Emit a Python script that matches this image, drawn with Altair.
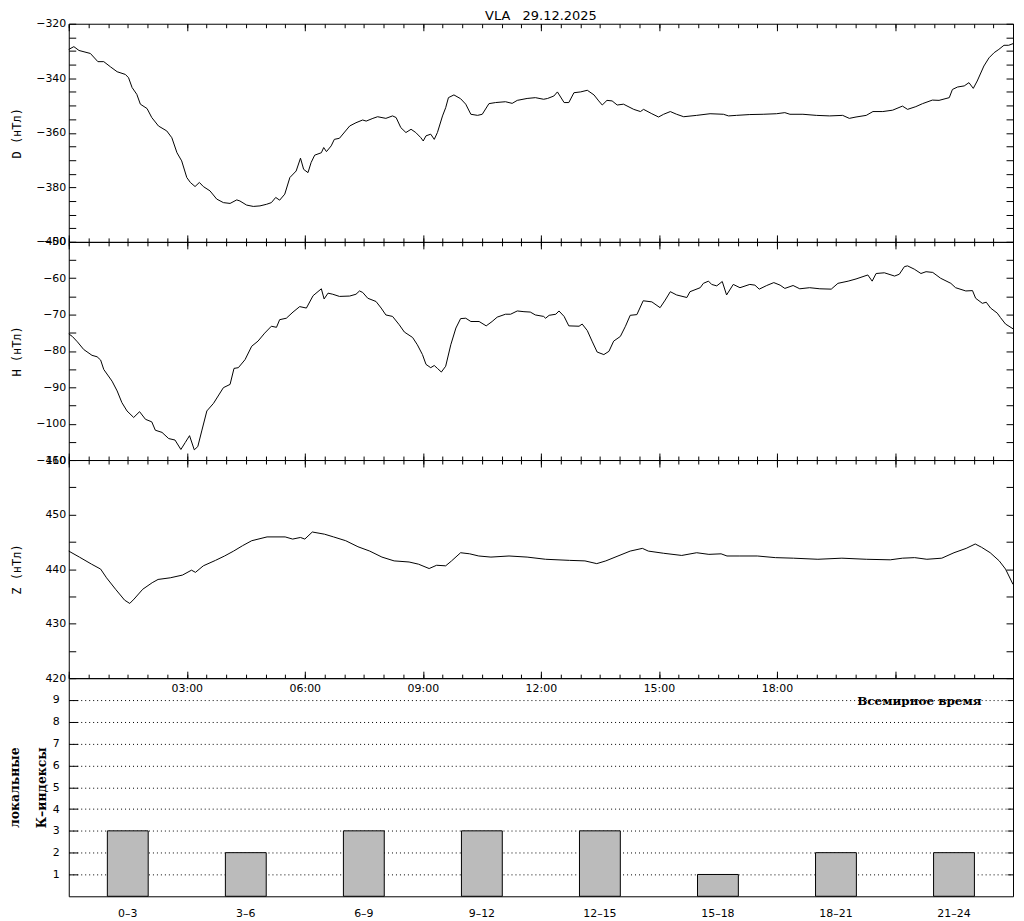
import altair as alt
import pandas as pd

# ---------------- data ----------------
d_hours = [0.00, 0.13, 0.26, 0.55, 0.74, 0.89, 1.06, 1.23, 1.44, 1.52, 1.61, 1.73, 1.82, 1.99, 2.11, 2.28,
           2.49, 2.62, 2.75, 2.87, 3.00, 3.09, 3.21, 3.32, 3.42, 3.59, 3.76, 3.93, 4.10, 4.27, 4.35, 4.52,
           4.69, 4.86, 5.03, 5.15, 5.26, 5.36, 5.49, 5.62, 5.78, 5.89, 5.97, 6.08, 6.16, 6.25, 6.42, 6.48,
           6.55, 6.67, 6.75, 6.88, 7.14, 7.30, 7.47, 7.56, 7.73, 7.85, 8.06, 8.23, 8.32, 8.44, 8.57, 8.70,
           8.82, 8.95, 9.01, 9.08, 9.20, 9.29, 9.37, 9.50, 9.58, 9.65, 9.79, 9.96, 10.09, 10.22, 10.39,
           10.51, 10.68, 10.85, 11.10, 11.27, 11.40, 11.65, 11.86, 12.07, 12.17, 12.33, 12.42, 12.59, 12.71,
           12.84, 13.01, 13.18, 13.35, 13.47, 13.56, 13.68, 13.81, 13.94, 14.10, 14.36, 14.53, 14.61, 14.82,
           14.99, 15.12, 15.29, 15.45, 15.63, 15.96, 16.30, 16.64, 16.77, 16.97, 17.31, 17.65, 17.99, 18.20,
           18.33, 18.66, 19.00, 19.34, 19.67, 19.84, 20.01, 20.27, 20.44, 20.69, 20.94, 21.19, 21.32, 21.53,
           21.70, 21.95, 22.12, 22.38, 22.46, 22.59, 22.76, 22.88, 22.99, 23.09, 23.26, 23.39, 23.52, 23.64,
           23.77, 23.89, 24.00]
d_values = [-329.4, -328.4, -329.8, -330.9, -333.9, -333.9, -335.8, -337.6, -338.6, -339.8, -343.4, -345.9,
            -349.5, -351.1, -354.4, -357.5, -359.3, -361.8, -367.3, -370.3, -376.4, -378.2, -379.7, -378.2,
            -379.7, -381.3, -384.3, -385.6, -385.9, -384.6, -385.0, -386.5, -387.0, -386.8, -386.2, -385.6,
            -383.7, -384.7, -382.5, -376.4, -374.0, -369.3, -373.4, -374.6, -370.9, -368.2, -367.3, -365.4,
            -366.9, -364.8, -362.4, -362.0, -357.5, -356.3, -355.3, -355.7, -354.7, -354.1, -354.7, -353.8,
            -354.4, -358.1, -359.9, -358.7, -359.9, -361.8, -363.0, -361.1, -360.5, -362.4, -359.9, -353.8,
            -350.8, -347.1, -346.1, -347.5, -349.5, -353.2, -353.6, -353.2, -349.3, -348.9, -348.6, -349.2,
            -348.1, -347.4, -347.1, -347.7, -347.4, -346.5, -345.0, -348.9, -348.9, -345.3, -345.0, -344.4,
            -346.1, -348.3, -349.8, -348.1, -348.3, -349.8, -349.5, -351.4, -352.2, -351.4, -353.0, -354.2,
            -353.2, -352.2, -353.2, -354.1, -353.6, -353.0, -353.2, -353.8, -353.6, -353.3, -353.2, -353.0,
            -352.6, -353.2, -353.2, -353.6, -353.8, -353.6, -354.7, -354.2, -353.6, -352.2, -352.2, -351.7,
            -350.2, -351.4, -350.4, -349.3, -348.0, -348.1, -347.1, -344.1, -343.2, -342.8, -341.6, -343.7,
            -341.0, -335.5, -332.5, -330.6, -329.4, -327.9, -327.9, -327.3]

h_hours = [0.00, 0.09, 0.22, 0.38, 0.59, 0.72, 0.81, 0.89, 1.10, 1.23, 1.35, 1.48, 1.65, 1.80, 1.95, 2.11,
           2.20, 2.37, 2.54, 2.70, 2.85, 2.96, 3.07, 3.19, 3.28, 3.38, 3.51, 3.68, 3.93, 4.10, 4.20, 4.31,
           4.48, 4.65, 4.81, 4.98, 5.15, 5.28, 5.36, 5.53, 5.70, 5.87, 6.04, 6.21, 6.42, 6.49, 6.59, 6.71,
           6.88, 7.14, 7.30, 7.39, 7.47, 7.60, 7.81, 7.94, 8.06, 8.23, 8.40, 8.53, 8.74, 8.86, 8.99, 9.08,
           9.20, 9.29, 9.37, 9.47, 9.58, 9.71, 9.84, 9.96, 10.09, 10.22, 10.43, 10.61, 10.76, 10.89, 11.10,
           11.23, 11.40, 11.57, 11.73, 11.86, 12.07, 12.12, 12.21, 12.38, 12.46, 12.59, 12.71, 12.97, 13.05,
           13.18, 13.30, 13.43, 13.60, 13.73, 13.85, 14.02, 14.15, 14.27, 14.44, 14.60, 14.82, 15.03, 15.16,
           15.29, 15.45, 15.71, 15.79, 16.05, 16.13, 16.26, 16.34, 16.47, 16.61, 16.72, 16.89, 17.06, 17.31,
           17.44, 17.55, 17.74, 17.92, 18.08, 18.20, 18.41, 18.58, 18.83, 19.09, 19.38, 19.55, 19.81, 20.01,
           20.31, 20.42, 20.52, 20.73, 20.99, 21.11, 21.24, 21.32, 21.49, 21.66, 21.79, 21.96, 22.16, 22.42,
           22.54, 22.80, 22.97, 23.05, 23.22, 23.32, 23.43, 23.60, 23.68, 23.81, 24.00]
h_values = [-75.3, -76.0, -77.5, -79.6, -81.2, -81.6, -82.5, -85.1, -88.3, -91.0, -94.2, -96.5, -98.3, -96.7,
            -98.8, -99.5, -101.8, -102.4, -104.1, -104.5, -107.1, -105.2, -103.3, -107.2, -106.3, -102.0,
            -96.5, -94.4, -90.1, -89.2, -84.8, -84.6, -82.4, -78.7, -77.3, -75.1, -73.2, -73.5, -71.4, -71.0,
            -69.3, -67.8, -68.2, -64.8, -62.9, -65.7, -64.1, -64.4, -65.0, -64.9, -64.4, -63.5, -63.9, -65.5,
            -66.4, -68.2, -70.1, -70.5, -72.8, -74.8, -76.3, -78.3, -81.0, -83.7, -84.6, -84.0, -84.8, -85.8,
            -84.2, -78.3, -73.7, -71.1, -71.0, -71.9, -71.9, -73.1, -71.9, -70.7, -69.9, -69.9, -69.0, -69.2,
            -69.3, -70.1, -70.5, -71.0, -70.2, -69.9, -69.0, -70.5, -73.1, -73.2, -72.6, -74.4, -77.3, -80.3,
            -81.0, -80.1, -77.3, -76.0, -73.2, -70.2, -70.0, -66.2, -66.5, -68.1, -66.0, -63.7, -64.6, -65.3,
            -63.7, -62.6, -61.4, -60.8, -61.7, -62.1, -60.9, -64.6, -61.7, -62.6, -61.7, -61.9, -63.0, -62.0,
            -61.2, -61.9, -62.8, -62.0, -62.9, -62.6, -62.9, -63.0, -61.4, -60.8, -60.2, -59.1, -60.8, -58.7,
            -58.5, -59.4, -58.9, -56.8, -56.6, -57.5, -58.7, -58.2, -58.4, -60.0, -61.4, -62.6, -63.5, -63.4,
            -65.5, -66.9, -66.6, -68.2, -69.6, -70.8, -72.6, -73.9]

z_hours = [0.00, 0.27, 0.58, 0.81, 0.96, 1.19, 1.42, 1.55, 1.66, 1.88, 2.12, 2.27, 2.58, 2.89, 3.12, 3.22,
           3.42, 3.73, 3.96, 4.19, 4.42, 4.65, 5.04, 5.50, 5.69, 5.89, 6.00, 6.19, 6.50, 6.73, 7.04, 7.35,
           7.65, 7.96, 8.27, 8.65, 8.89, 9.16, 9.35, 9.58, 9.73, 9.96, 10.19, 10.42, 10.73, 11.19, 11.65,
           12.12, 12.73, 13.12, 13.42, 13.65, 13.96, 14.27, 14.58, 14.73, 15.12, 15.58, 15.96, 16.27, 16.58,
           16.73, 17.04, 17.50, 17.96, 18.42, 19.04, 19.65, 20.27, 20.88, 21.19, 21.50, 21.81, 22.19, 22.50,
           22.81, 23.04, 23.20, 23.42, 23.65, 23.81, 24.00]
z_values = [443.3, 442.2, 440.9, 440.0, 438.4, 436.3, 434.3, 433.7, 434.5, 436.3, 437.5, 438.1, 438.4, 438.9,
            439.8, 439.4, 440.6, 441.6, 442.4, 443.3, 444.3, 445.2, 445.9, 445.9, 445.5, 445.8, 445.5, 446.8,
            446.4, 445.9, 445.2, 444.1, 443.3, 442.2, 441.5, 441.3, 440.9, 440.1, 440.7, 440.6, 441.5, 443.0,
            442.8, 442.4, 442.2, 442.4, 442.2, 441.8, 441.6, 441.5, 441.0, 441.5, 442.4, 443.3, 443.8, 443.3,
            442.9, 442.5, 443.0, 442.7, 442.8, 442.4, 442.4, 442.4, 442.1, 442.0, 441.8, 442.0, 441.8, 441.7,
            442.0, 442.1, 441.8, 442.0, 443.0, 443.8, 444.6, 444.0, 443.0, 441.5, 440.0, 437.2]

k_labels = ["0–3", "3–6", "6–9", "9–12", "12–15", "15–18", "18–21", "21–24"]
k_values = [3, 2, 3, 3, 3, 1, 2, 2]

time_ticks = [3, 6, 9, 12, 15, 18]
time_labels = ["03:00", "06:00", "09:00", "12:00", "15:00", "18:00"]

# ---------------- styling ----------------
W = 948
PH = 219
BLACK = "#000000"
SANS = "DejaVu Sans"
SERIF = "DejaVu Serif"
MONO = "DejaVu Sans Mono"

half_hours = [i * 0.5 for i in range(49)]
three_hours = [i * 3 for i in range(9)]


def field_panel(hours, values, domain, label_step, title, show_time=False):
    df = pd.DataFrame({"t": hours, "v": values})
    xs = alt.Scale(domain=[0, 24], nice=False, zero=False)
    ys = alt.Scale(domain=domain, nice=False, zero=False)
    yvals = list(range(domain[0], domain[1] + 1, 5))
    base = alt.Chart(df)

    l1 = base.mark_line(color=BLACK, strokeWidth=1).encode(
        x=alt.X("t:Q", scale=xs, axis=alt.Axis(orient="bottom", values=half_hours, tickSize=4,
                                                offset=-4, labels=False, title=None)),
        y=alt.Y("v:Q", scale=ys, axis=alt.Axis(
            orient="left", values=yvals, tickSize=7, offset=-7, labelPadding=3, labelFontSize=11,
            labelExpr=f"datum.value % {label_step} === 0 ? datum.label : ''",
            title=title, titleX=-52.5, titleY=PH / 2, titleAngle=270, titleBaseline="bottom",
            titleAlign="center", titleFont=MONO, titleFontSize=12, titleFontWeight="normal")),
    )
    l2 = base.mark_line(opacity=0).encode(
        x=alt.X("t:Q", scale=xs, axis=alt.Axis(orient="top", values=half_hours, tickSize=4,
                                                offset=-4, labels=False, title=None)),
        y=alt.Y("v:Q", scale=ys, axis=alt.Axis(orient="right", values=yvals, tickSize=7,
                                                offset=-7, labels=False, title=None)),
    )
    if show_time:
        bottom_major = alt.Axis(
            orient="bottom", values=three_hours, tickSize=7, offset=-7, labels=True, labelPadding=4,
            labelFontSize=11,
            labelExpr=f"indexof({time_ticks}, datum.value) >= 0 ? {time_labels}[indexof({time_ticks}, datum.value)] : ''",
            title="Всемирное время", titleX=853.5, titleY=29, titleBaseline="middle", titleAlign="center",
            titleFont=SERIF, titleFontSize=12, titleFontWeight="bold")
    else:
        bottom_major = alt.Axis(orient="bottom", values=three_hours, tickSize=7, offset=-7,
                                labels=False, title=None)
    l3 = base.mark_line(opacity=0).encode(
        x=alt.X("t:Q", scale=xs, axis=bottom_major),
        y=alt.Y("v:Q", scale=ys, axis=None),
    )
    l4 = base.mark_line(opacity=0).encode(
        x=alt.X("t:Q", scale=xs, axis=alt.Axis(orient="top", values=three_hours, tickSize=7,
                                                offset=-7, labels=False, title=None)),
        y=alt.Y("v:Q", scale=ys, axis=None),
    )
    return (alt.layer(l1, l2, l3, l4)
            .resolve_axis(x="independent", y="independent")
            .properties(width=W, height=PH))


d_panel = field_panel(d_hours, d_values, [-400, -320], 20, "D (нТл)")
h_panel = field_panel(h_hours, h_values, [-110, -50], 10, "H (нТл)")
z_panel = field_panel(z_hours, z_values, [420, 460], 10, "Z (нТл)", show_time=True)

# ---------------- K-index panel ----------------
kdf = pd.DataFrame({"interval": k_labels, "k": k_values})
kx = alt.Scale(domain=k_labels, paddingInner=0.654, paddingOuter=0.327)
ky = alt.Scale(domain=[0, 10], nice=False, zero=True)
kvals = list(range(1, 10))
k_xaxis = alt.Axis(orient="bottom", labelAngle=0, ticks=False, labelPadding=11.5,
                   labelFontSize=11, title=None)

# dotted grid (axis without offset so it spans exactly the panel)
k_grid = alt.Chart(kdf).mark_bar(opacity=0).encode(
    x=alt.X("interval:N", sort=k_labels, scale=kx, axis=k_xaxis),
    y=alt.Y("k:Q", scale=ky, axis=alt.Axis(
        orient="left", values=kvals, grid=True, gridDash=[1, 3], gridColor=BLACK, gridWidth=1,
        gridOpacity=1, ticks=False, labels=False, title=None)),
)
k_bars = alt.Chart(kdf).mark_bar(color="#bbbbbb", stroke=BLACK, strokeWidth=1).encode(
    x=alt.X("interval:N", sort=k_labels, scale=kx, axis=k_xaxis),
    y=alt.Y("k:Q", scale=ky, axis=alt.Axis(
        orient="left", values=kvals, tickSize=9, offset=-9, labelPadding=9.5, labelFontSize=11,
        title=["локальные", "К–индексы"], titleX=-56, titleY=PH / 2, titleAngle=270,
        titleBaseline="bottom", titleAlign="center", titleFont=SERIF, titleFontSize=12.5,
        titleFontWeight="bold", titleLineHeight=27)),
)
k_right = alt.Chart(kdf).mark_bar(opacity=0).encode(
    x=alt.X("interval:N", sort=k_labels, scale=kx, axis=k_xaxis),
    y=alt.Y("k:Q", scale=ky, axis=alt.Axis(orient="right", values=kvals, tickSize=6, offset=-6,
                                            labels=False, title=None)),
)
k_panel = (alt.layer(k_grid, k_bars, k_right)
           .resolve_axis(y="independent")
           .properties(width=W, height=PH))

chart = (
    alt.vconcat(d_panel, h_panel, z_panel, k_panel, spacing=0, bounds="flush")
    .properties(
        title=alt.TitleParams("VLA\u00a0\u00a0 29.12.2025", font=SANS, fontSize=13, fontWeight="normal",
                              color=BLACK, anchor="middle", frame="group", offset=-6),
        padding={"left": 0, "top": 0, "right": 0, "bottom": 0},
        background="white",
    )
    .configure_view(stroke=BLACK, strokeWidth=1)
    .configure_axis(domain=False, grid=False, tickColor=BLACK, tickWidth=1, labelColor=BLACK,
                    labelFont=SANS, labelFontSize=10, titleColor=BLACK, labelOverlap=False,
                    labelFlush=False)
)

chart.save("out.html", embed_options={"renderer": "svg", "actions": False})
